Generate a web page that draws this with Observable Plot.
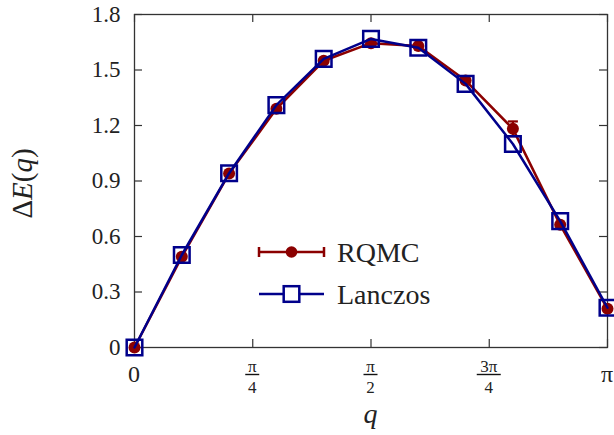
<!DOCTYPE html>
<html>
<head>
<meta charset="utf-8">
<script src="https://cdn.jsdelivr.net/npm/d3@7"></script>
<script src="https://cdn.jsdelivr.net/npm/@observablehq/plot@0.6"></script>
<style>
html, body { margin: 0; padding: 0; background: #fff; }
#chart svg { display: block; }
</style>
</head>
<body>
<div id="chart"></div>
<script>
// ---- data ----
const qOverPi = [0, 0.1, 0.2, 0.3, 0.4, 0.5, 0.6, 0.7, 0.8, 0.9, 1.0];
const rqmcE   = [0, 0.49, 0.94, 1.29, 1.55, 1.645, 1.63, 1.443, 1.182, 0.663, 0.209];
const rqmcErr = [0, 0, 0, 0, 0, 0, 0, 0, 0.04, 0, 0];
const lanczosE = [0, 0.50, 0.942, 1.31, 1.56, 1.668, 1.62, 1.425, 1.10, 0.683, 0.215];

const yTicks = [0, 0.3, 0.6, 0.9, 1.2, 1.5, 1.8];
const yTickLabels = ["0", "0.3", "0.6", "0.9", "1.2", "1.5", "1.8"];
const xTicksOverPi = [0, 0.25, 0.5, 0.75, 1];
const xTickNum = ["0", "π", "π", "3π", "π"];
const xTickDen = [null, "4", "2", "4", null];
const seriesNames = ["RQMC", "Lanczos"];

// ---- build tables ----
const rqmc = qOverPi.map((f, i) => ({ q: f * Math.PI, e: rqmcE[i], err: rqmcErr[i] }));
const lanczos = qOverPi.map((f, i) => ({ q: f * Math.PI, e: lanczosE[i] }));
const xTicks = xTicksOverPi.map(f => f * Math.PI);

const W = 614, H = 435, mL = 134, mR = 7, mT = 14, mB = 88;
const PW = W - mL - mR, PH = H - mT - mB;
const serif = "Liberation Serif";
const red = "#8b0000", blue = "#00008b", axisColor = "#333";

const capSymbol = {
  draw(ctx, size) {
    const r = Math.sqrt(size / Math.PI);
    ctx.moveTo(-r, 0); ctx.lineTo(r, 0);
  }
};

function txt(g, x, y, size, s, anchor) {
  return g.append("text").attr("x", x).attr("y", y).attr("font-size", size)
    .attr("font-family", serif).attr("text-anchor", anchor).attr("fill", "#222").text(s);
}

function xTickLabelsMark(index, scales, values, dims) {
  const g = d3.create("svg:g");
  const base = dims.height - dims.marginBottom;
  xTicks.forEach((v, i) => {
    const x = scales.x(v);
    if (xTickDen[i] == null) {
      txt(g, x, base + 35, 24, xTickNum[i], "middle");
    } else {
      txt(g, x, base + 24.5, 17, xTickNum[i], "middle");
      const bw = xTickNum[i].length > 1 ? 24 : 14;
      g.append("line").attr("x1", x - bw / 2).attr("x2", x + bw / 2)
        .attr("y1", base + 27.5).attr("y2", base + 27.5)
        .attr("stroke", "#111").attr("stroke-width", 1.4);
      txt(g, x, base + 45.5, 17, xTickDen[i], "middle");
    }
  });
  return g.node();
}

function axisLabelsMark(index, scales, values, dims) {
  const g = d3.create("svg:g");
  const cx = dims.marginLeft + (dims.width - dims.marginLeft - dims.marginRight) / 2;
  const cy = dims.marginTop + (dims.height - dims.marginTop - dims.marginBottom) / 2;
  txt(g, cx, dims.height - 12, 28, "q", "middle").attr("font-style", "italic");
  const t = g.append("text").attr("transform", `translate(32,${cy + 3}) rotate(-90)`)
    .attr("font-size", 29).attr("font-family", serif).attr("text-anchor", "middle").attr("fill", "#222");
  t.append("tspan").text("Δ");
  t.append("tspan").attr("font-style", "italic").text("E");
  t.append("tspan").text("(");
  t.append("tspan").attr("font-style", "italic").text("q");
  t.append("tspan").text(")");
  return g.node();
}

function legendMark(index, scales, values, dims) {
  const g = d3.create("svg:g");
  const x0 = dims.marginLeft + 125, x1 = dims.marginLeft + 190, xm = (x0 + x1) / 2;
  const y0 = dims.marginTop + 238, y1 = dims.marginTop + 280;
  // RQMC
  g.append("line").attr("x1", x0).attr("x2", x1).attr("y1", y0).attr("y2", y0)
    .attr("stroke", red).attr("stroke-width", 2.5);
  [x0, x1].forEach(x => g.append("line").attr("x1", x).attr("x2", x)
    .attr("y1", y0 - 5).attr("y2", y0 + 5).attr("stroke", red).attr("stroke-width", 2.5));
  g.append("circle").attr("cx", xm).attr("cy", y0).attr("r", 5.8).attr("fill", red);
  txt(g, x1 + 13, y0 + 9.5, 28, seriesNames[0], "start");
  // Lanczos
  g.append("line").attr("x1", x0).attr("x2", x1).attr("y1", y1).attr("y2", y1)
    .attr("stroke", blue).attr("stroke-width", 2.5);
  g.append("rect").attr("x", xm - 7.8).attr("y", y1 - 7.8).attr("width", 15.6).attr("height", 15.6)
    .attr("fill", "#fff").attr("stroke", blue).attr("stroke-width", 2.5);
  txt(g, x1 + 13, y1 + 9.5, 28, seriesNames[1], "start");
  return g.node();
}

const chart = Plot.plot({
  width: W, height: H,
  marginLeft: mL, marginRight: mR, marginTop: mT, marginBottom: mB,
  style: "font-family: 'Liberation Serif'; background: #fff; overflow: visible;",
  x: { domain: [0, Math.PI], axis: null },
  y: { domain: [0, 1.8], axis: null },
  marks: [
    Plot.frame({ stroke: axisColor, strokeWidth: 1.3 }),
    Plot.tickY(yTicks, { y: d => d, insetRight: PW - 8, stroke: axisColor, strokeWidth: 1.2 }),
    Plot.tickY(yTicks, { y: d => d, insetLeft: PW - 8, stroke: axisColor, strokeWidth: 1.2 }),
    Plot.tickX(xTicks, { x: d => d, insetBottom: PH - 8, stroke: axisColor, strokeWidth: 1.2 }),
    Plot.tickX(xTicks, { x: d => d, insetTop: PH - 8, stroke: axisColor, strokeWidth: 1.2 }),
    Plot.text(yTicks, { y: d => d, text: (d, i) => yTickLabels[i], frameAnchor: "left", dx: -14,
      textAnchor: "end", fontSize: 23, fontFamily: serif, fill: "#222" }),
    xTickLabelsMark,
    axisLabelsMark,
    // RQMC
    Plot.line(rqmc, { x: "q", y: "e", stroke: red, strokeWidth: 2.5 }),
    Plot.ruleX(rqmc.filter(d => d.err > 0), { x: "q", y1: d => d.e - d.err, y2: d => d.e + d.err,
      stroke: red, strokeWidth: 2.2 }),
    Plot.dot(rqmc.filter(d => d.err > 0), { x: "q", y: d => d.e + d.err, symbol: capSymbol, r: 5,
      stroke: red, strokeWidth: 2.2 }),
    Plot.dot(rqmc.filter(d => d.err > 0), { x: "q", y: d => d.e - d.err, symbol: capSymbol, r: 5,
      stroke: red, strokeWidth: 2.2 }),
    Plot.dot(rqmc, { x: "q", y: "e", r: 6, fill: red }),
    // Lanczos
    Plot.line(lanczos, { x: "q", y: "e", stroke: blue, strokeWidth: 2.5 }),
    Plot.dot(lanczos, { x: "q", y: "e", symbol: "square", r: 8.8, fill: "none", stroke: blue, strokeWidth: 2.5 }),
    legendMark
  ]
});
d3.select(chart).style("font-family", "Liberation Serif", "important");
d3.select(chart).selectAll("text, tspan").style("font-family", "Liberation Serif", "important");
document.getElementById("chart").append(chart);
</script>
</body>
</html>
